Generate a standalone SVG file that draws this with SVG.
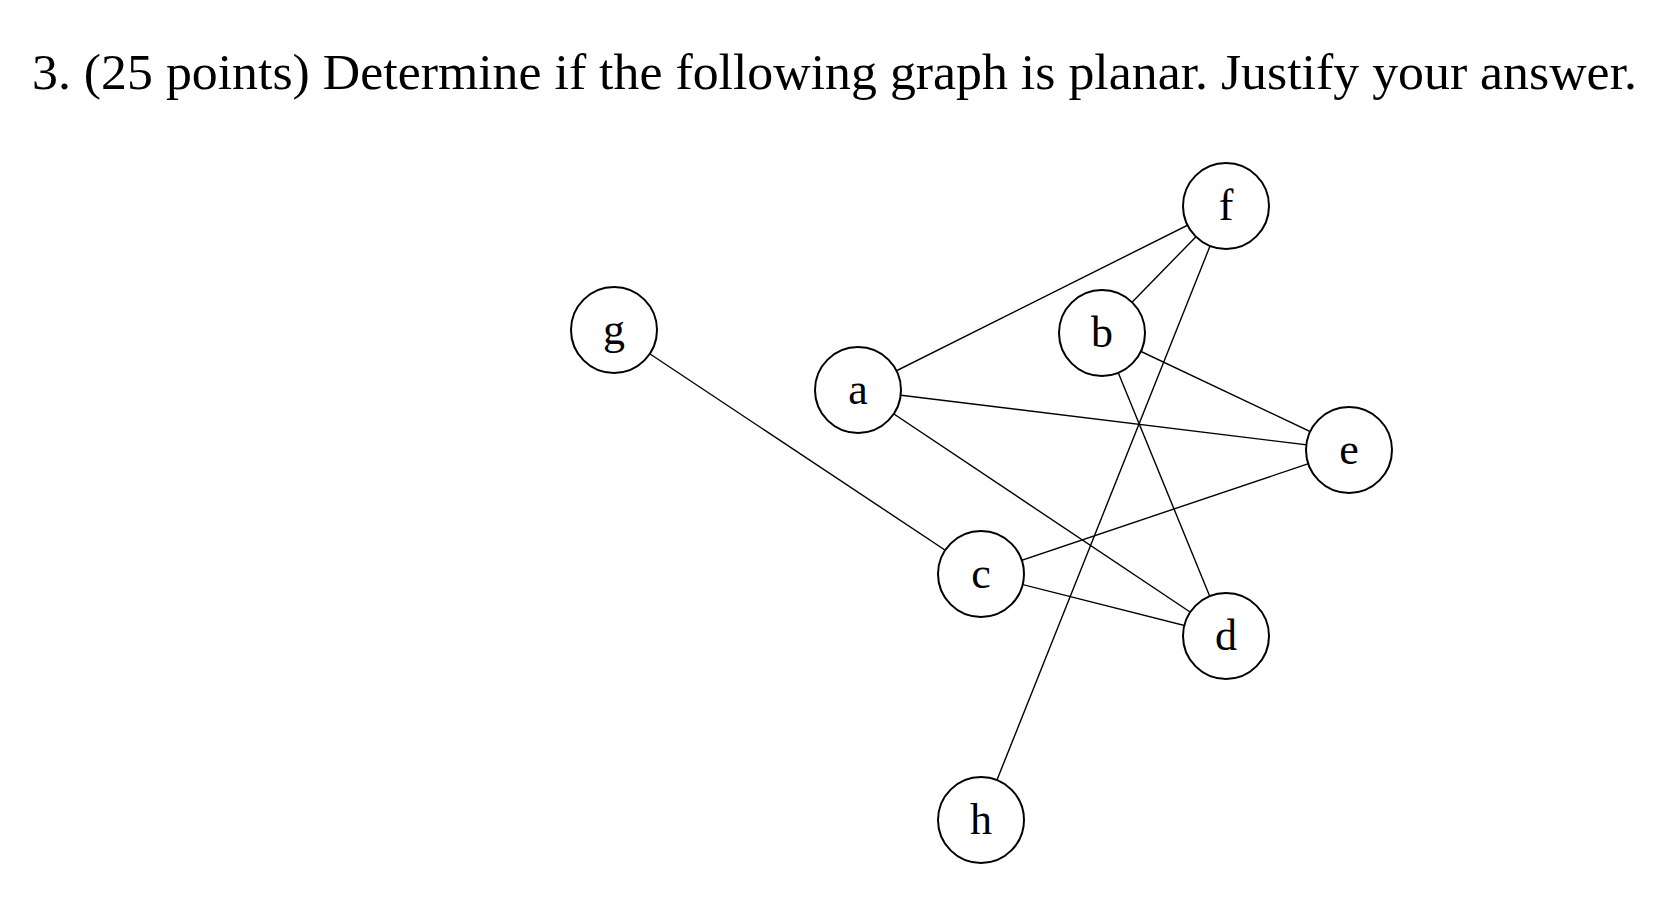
<svg xmlns="http://www.w3.org/2000/svg" width="1668" height="902" viewBox="0 0 1668 902">
<style>
text{font-family:"Liberation Serif","Times New Roman",serif;fill:#000}
.n circle{fill:#fff;stroke:#000;stroke-width:2}
.n text{font-size:44px;text-anchor:middle}
#edges line{stroke:#000;stroke-width:1.4}
</style>
<rect width="1668" height="902" fill="#fff"/>
<text x="32" y="89" font-size="50" textLength="1605" lengthAdjust="spacingAndGlyphs">3. (25 points) Determine if the following graph is planar. Justify your answer.</text>
<g id="edges">
<line x1="858" y1="390" x2="1226" y2="206"/>
<line x1="858" y1="390" x2="1349" y2="450"/>
<line x1="858" y1="390" x2="1226" y2="636"/>
<line x1="1102" y1="333" x2="1226" y2="206"/>
<line x1="1102" y1="333" x2="1349" y2="450"/>
<line x1="1102" y1="333" x2="1226" y2="636"/>
<line x1="1226" y1="206" x2="981" y2="820"/>
<line x1="981" y1="574" x2="1349" y2="450"/>
<line x1="981" y1="574" x2="1226" y2="636"/>
<line x1="614" y1="330" x2="981" y2="574"/>
</g>
<g id="g" class="n"><circle cx="614" cy="330" r="43"/><text x="614" y="344">g</text></g>
<g id="a" class="n"><circle cx="858" cy="390" r="43"/><text x="858" y="404">a</text></g>
<g id="b" class="n"><circle cx="1102" cy="333" r="43"/><text x="1102" y="347">b</text></g>
<g id="f" class="n"><circle cx="1226" cy="206" r="43"/><text x="1226" y="220">f</text></g>
<g id="e" class="n"><circle cx="1349" cy="450" r="43"/><text x="1349" y="464">e</text></g>
<g id="c" class="n"><circle cx="981" cy="574" r="43"/><text x="981" y="588">c</text></g>
<g id="d" class="n"><circle cx="1226" cy="636" r="43"/><text x="1226" y="650">d</text></g>
<g id="h" class="n"><circle cx="981" cy="820" r="43"/><text x="981" y="834">h</text></g>
</svg>
